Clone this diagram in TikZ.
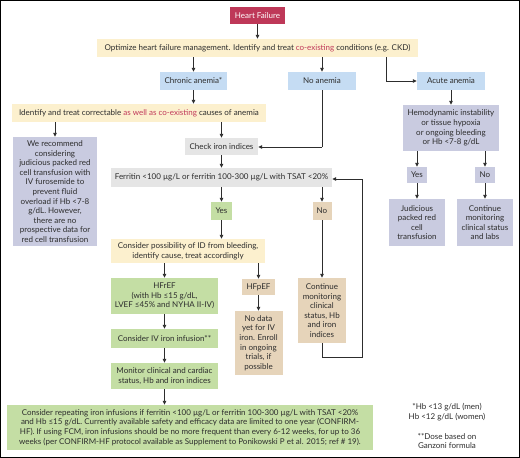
\documentclass[tikz,border=0pt]{standalone}
\usepackage{fontspec}
\setmainfont{Lato}
\usetikzlibrary{arrows.meta}
\definecolor{hfred}{RGB}{190,56,88}
\definecolor{redtxt}{RGB}{192,57,90}
\definecolor{ylw}{RGB}{252,240,206}
\definecolor{blu}{RGB}{197,220,243}
\definecolor{lav}{RGB}{201,203,224}
\definecolor{gry}{RGB}{229,229,229}
\definecolor{grn}{RGB}{196,222,164}
\definecolor{tan}{RGB}{230,212,186}
\definecolor{txt}{RGB}{45,45,45}
\tikzset{
  bx/.style={inner sep=0pt, align=center, text=txt, font=\fontsize{8.0}{9.6}\selectfont},
  arr/.style={draw=txt, line width=0.9pt, -{Triangle[length=4pt,width=3.6pt]}},
  ln/.style={draw=txt, line width=0.9pt},
}
\begin{document}
\begin{tikzpicture}[x=1pt,y=-1pt]
\useasboundingbox (0,0) rectangle (520,458);
\fill[white] (0,0) rectangle (520,458);
\draw[black, line width=1.2pt] (0.6,0.6) rectangle (519.4,457.2);

\node[bx, fill=hfred, text=white, minimum width=55pt, minimum height=17pt] (hf) at (257.5,15.5) {Heart Failure};
\node[bx, fill=ylw, minimum width=321pt, minimum height=18pt] (opt) at (257.5,48) {Optimize heart failure management. Identify and treat \textcolor{redtxt}{co-existing} conditions (e.g. CKD)};
\node[bx, fill=blu, minimum width=67pt, minimum height=18pt] (chr) at (193.5,81) {Chronic anemia*};
\node[bx, fill=blu, minimum width=68pt, minimum height=18pt] (noan) at (322,81) {No anemia};
\node[bx, fill=blu, minimum width=68pt, minimum height=18pt] (acu) at (451,81) {Acute anemia};
\node[bx, fill=ylw, minimum width=254pt, minimum height=18pt] (idt) at (139,113) {Identify and treat correctable \textcolor{redtxt}{as well as co-existing} causes of anemia};
\node[bx, fill=lav, minimum width=84pt, minimum height=109pt] (rec) at (55,191.5) {We recommend\\considering\\judicious packed red\\cell transfusion with\\IV furosemide to\\prevent fluid\\overload if Hb <7-8\\g/dL. However,\\there are no\\prospective data for\\red cell transfusion};
\node[bx, fill=gry, minimum width=73pt, minimum height=17pt] (chk) at (221.5,146.5) {Check iron indices};
\node[bx, fill=gry, minimum width=221pt, minimum height=19pt] (fer) at (221.5,177.5) {Ferritin <100 µg/L or ferritin 100-300 µg/L with TSAT <20\%};
\node[bx, fill=grn, minimum width=21pt, minimum height=18pt] (yes1) at (221.5,211) {Yes};
\node[bx, fill=tan, minimum width=19pt, minimum height=18pt] (no1) at (322,211) {No};
\node[bx, fill=ylw, minimum width=154pt, minimum height=24pt] (cons) at (188,251) {Consider possibility of ID from bleeding,\\identify cause, treat accordingly};
\node[bx, fill=grn, minimum width=107pt, minimum height=36pt] (hfr) at (164.5,296) {HFrEF\\(with Hb ≤15 g/dL,\\LVEF ≤45\% and NYHA II-IV)};
\node[bx, fill=tan, minimum width=33pt, minimum height=16pt] (hfp) at (258.5,287) {HFpEF};
\node[bx, fill=tan, minimum width=48pt, minimum height=64pt] (nod) at (258.5,343) {No data\\yet for IV\\iron. Enroll\\in ongoing\\trials, if\\possible};
\node[bx, fill=tan, minimum width=48pt, minimum height=65pt] (cmon) at (322,310.5) {Continue\\monitoring\\clinical\\status, Hb\\and iron\\indices};
\node[bx, fill=grn, minimum width=107pt, minimum height=19pt] (ivi) at (164.5,338.5) {Consider IV iron infusion**};
\node[bx, fill=grn, minimum width=107pt, minimum height=26pt] (mon) at (164.5,376) {Monitor clinical and cardiac\\status, Hb and iron indices};
\node[bx, fill=grn, minimum width=366pt, minimum height=45pt] (bot) at (190,427.5) {Consider repeating iron infusions if ferritin <100 µg/L or ferritin 100-300 µg/L with TSAT <20\%\\and Hb ≤15 g/dL. Currently available safety and efficacy data are limited to one year (CONFIRM-\\HF). If using FCM, iron infusions should be no more frequent than every 6-12 weeks, for up to 36\\weeks (per CONFIRM-HF protocol available as Supplement to Ponikowski P et al. 2015; ref \# 19).};
\node[bx, fill=lav, minimum width=96pt, minimum height=46pt] (hemo) at (451,128) {Hemodynamic instability\\or tissue hypoxia\\or ongoing bleeding\\or Hb <7-8 g/dL};
\node[bx, fill=lav, minimum width=20pt, minimum height=16pt] (yes2) at (417,175) {Yes};
\node[bx, fill=lav, minimum width=20pt, minimum height=16pt] (no2) at (485,175) {No};
\node[bx, fill=lav, minimum width=56pt, minimum height=47pt] (jud) at (417,222.5) {Judicious\\packed red\\cell\\transfusion};
\node[bx, fill=lav, minimum width=56pt, minimum height=47pt] (clab) at (485,222.5) {Continue\\monitoring\\clinical status\\and labs};
\node[bx] (fn1) at (447,412) {*Hb <13 g/dL (men)\\Hb <12 g/dL (women)};
\node[bx] (fn2) at (447,441) {**Dose based on\\Ganzoni formula};

\coordinate (loopA) at (322,357);
\coordinate (loopB) at (362,357);
\coordinate (loopC) at (362,179);
\coordinate (accorner) at (386,81);
\coordinate (nacorner) at (322,147);

\draw[arr] (hf) -- (opt);
\draw[arr] (opt.south -| chr) -- (chr);
\draw[arr] (opt.south -| noan) -- (noan);
\draw[ln] (opt.south -| accorner) -- (accorner);
\draw[arr] (accorner) -- (acu);
\draw[arr] (chr) -- (chr |- idt.north);
\draw[arr] (idt.south -| rec) -- (rec);
\draw[arr] (idt.south -| chk) -- (chk);
\draw[ln] (noan) -- (nacorner);
\draw[arr] (nacorner) -- (chk.east |- nacorner);
\draw[arr] (chk) -- (fer.north -| chk);
\draw[arr] (fer.south -| yes1) -- (yes1);
\draw[arr] (fer.south -| no1) -- (no1);
\draw[arr] (yes1) -- (cons.north -| yes1);
\draw[arr] (cons.south -| hfr) -- (hfr);
\draw[arr] (cons.south -| hfp) -- (hfp);
\draw[arr] (hfp) -- (nod);
\draw[arr] (no1) -- (cmon);
\draw[ln] (cmon.south) -- (loopA) -- (loopB) -- (loopC);
\draw[arr] (loopC) -- (fer.east |- loopC);
\draw[arr] (hfr) -- (ivi);
\draw[arr] (ivi) -- (mon);
\draw[arr] (mon) -- (bot.north -| mon);
\draw[arr] (acu) -- (hemo);
\draw[arr] (hemo.south -| yes2) -- (yes2);
\draw[arr] (hemo.south -| no2) -- (no2);
\draw[arr] (yes2) -- (jud);
\draw[arr] (no2) -- (clab);
\end{tikzpicture}
\end{document}
